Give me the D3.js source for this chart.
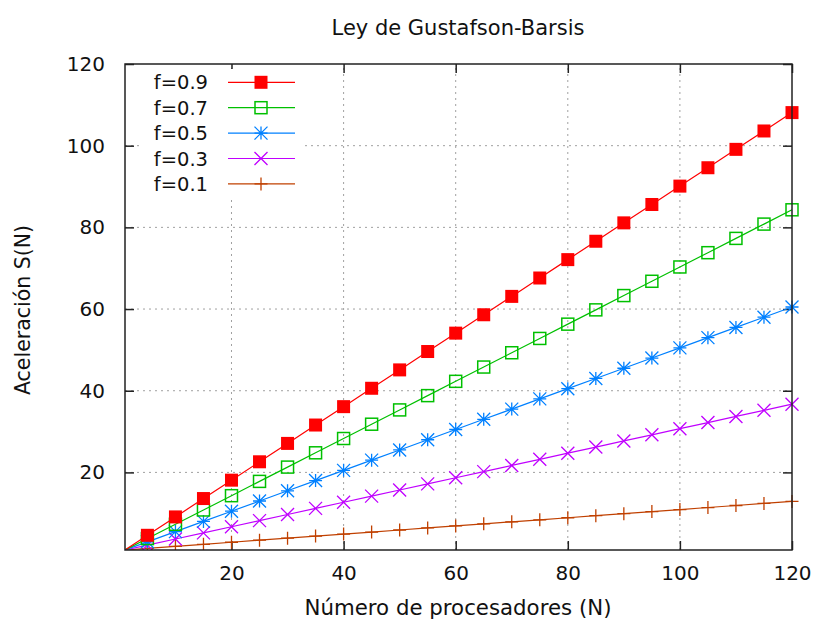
<!DOCTYPE html>
<html>
<head>
<meta charset="utf-8">
<script src="https://cdn.jsdelivr.net/npm/d3@7"></script>
<style>
  body { margin: 0; background: #fff; }
  svg { font-family: "DejaVu Sans", sans-serif; }
</style>
</head>
<body>
<svg width="814" height="623"></svg>
<script>
// processors and speed-up
const procs = [1, 5, 10, 15, 20, 25, 30, 35, 40, 45, 50, 55, 60, 65, 70, 75, 80, 85, 90, 95, 100, 105, 110, 115, 120];
const f09 = [1, 4.6, 9.1, 13.6, 18.1, 22.6, 27.1, 31.6, 36.1, 40.6, 45.1, 49.6, 54.1, 58.6, 63.1, 67.6, 72.1, 76.6, 81.1, 85.6, 90.1, 94.6, 99.1, 103.6, 108.1];
const f07 = [1, 3.8, 7.3, 10.8, 14.3, 17.8, 21.3, 24.8, 28.3, 31.8, 35.3, 38.8, 42.3, 45.8, 49.3, 52.8, 56.3, 59.8, 63.3, 66.8, 70.3, 73.8, 77.3, 80.8, 84.3];
const f05 = [1, 3, 5.5, 8, 10.5, 13, 15.5, 18, 20.5, 23, 25.5, 28, 30.5, 33, 35.5, 38, 40.5, 43, 45.5, 48, 50.5, 53, 55.5, 58, 60.5];
const f03 = [1, 2.2, 3.7, 5.2, 6.7, 8.2, 9.7, 11.2, 12.7, 14.2, 15.7, 17.2, 18.7, 20.2, 21.7, 23.2, 24.7, 26.2, 27.7, 29.2, 30.7, 32.2, 33.7, 35.2, 36.7];
const f01 = [1, 1.4, 1.9, 2.4, 2.9, 3.4, 3.9, 4.4, 4.9, 5.4, 5.9, 6.4, 6.9, 7.4, 7.9, 8.4, 8.9, 9.4, 9.9, 10.4, 10.9, 11.4, 11.9, 12.4, 12.9];
const seriesNames = ["f=0.9", "f=0.7", "f=0.5", "f=0.3", "f=0.1"];
const seriesValues = [f09, f07, f05, f03, f01];
const seriesColors = ["#ff0000", "#00c000", "#0080ff", "#c000ff", "#c04000"];
const seriesSymbols = ["fillsquare", "square", "star", "cross", "plus"];
const xTicks = [20, 40, 60, 80, 100, 120];
const yTicks = [20, 40, 60, 80, 100, 120];

const svg = d3.select('svg');
const plotLeft = 125, plotRight = 792, plotTop = 64, plotBottom = 550;

const x = d3.scaleLinear().domain([1, 120]).range([plotLeft, plotRight]);
const y = d3.scaleLinear().domain([1, 120]).range([plotBottom, plotTop]);

// grid
const grid = svg.append('g')
  .attr('stroke', '#a0a0a0')
  .attr('stroke-width', 1)
  .attr('stroke-dasharray', '2,4');
grid.selectAll('.gx').data(xTicks.slice(0, -1)).enter().append('line')
  .attr('x1', (d) => x(d)).attr('x2', (d) => x(d))
  .attr('y1', plotBottom).attr('y2', plotTop);
grid.selectAll('.gy').data(yTicks.slice(0, -1)).enter().append('line')
  .attr('x1', plotLeft).attr('x2', plotRight)
  .attr('y1', (d) => y(d)).attr('y2', (d) => y(d));

// axes (ticks point inward, mirrored)
const tickLen = 9;
svg.append('g')
  .attr('transform', `translate(0,${plotBottom})`)
  .call(d3.axisBottom(x).tickValues(xTicks).tickSize(-tickLen).tickPadding(16));
svg.append('g')
  .attr('transform', `translate(${plotLeft},0)`)
  .call(d3.axisLeft(y).tickValues(yTicks).tickSize(-tickLen).tickPadding(20));
svg.append('g')
  .attr('transform', `translate(0,${plotTop})`)
  .call(d3.axisTop(x).tickValues(xTicks).tickSize(-tickLen).tickFormat(''));
svg.append('g')
  .attr('transform', `translate(${plotRight},0)`)
  .call(d3.axisRight(y).tickValues(yTicks).tickSize(-tickLen).tickFormat(''));
svg.selectAll('.domain').remove();
svg.selectAll('.tick line').attr('stroke', '#222').attr('stroke-width', 1.5);
svg.selectAll('.tick text')
  .attr('font-family', '"DejaVu Sans", sans-serif')
  .attr('font-size', 20)
  .attr('fill', '#111');

// clip for the data
svg.append('defs').append('clipPath').attr('id', 'plot-clip')
  .append('rect').attr('x', plotLeft).attr('y', plotTop - 10)
  .attr('width', plotRight - plotLeft + 10).attr('height', plotBottom - plotTop + 10);

function symbolPath(g, kind, color) {
  const s = 6.5;
  if (kind === 'fillsquare') {
    g.append('rect').attr('x', -s).attr('y', -s).attr('width', 2 * s).attr('height', 2 * s)
      .attr('fill', color);
  } else if (kind === 'square') {
    g.append('rect').attr('x', -s + 0.5).attr('y', -s + 0.5).attr('width', 2 * s - 1).attr('height', 2 * s - 1)
      .attr('fill', 'none').attr('stroke', color).attr('stroke-width', 1.5);
  } else if (kind === 'star') {
    g.append('path').attr('d', `M${-s},0H${s}M0,${-s}V${s}M${-s},${-s}L${s},${s}M${-s},${s}L${s},${-s}`)
      .attr('stroke', color).attr('stroke-width', 1.3);
  } else if (kind === 'cross') {
    g.append('path').attr('d', `M${-s},${-s}L${s},${s}M${-s},${s}L${s},${-s}`)
      .attr('stroke', color).attr('stroke-width', 1.3);
  } else {
    g.append('path').attr('d', `M${-s},0H${s}M0,${-s}V${s}`)
      .attr('stroke', color).attr('stroke-width', 1.3);
  }
}

const line = d3.line().x((d, i) => x(procs[i])).y((d) => y(d));
const plot = svg.append('g').attr('clip-path', 'url(#plot-clip)');

// draw series back to front so f=0.9 sits on top
for (let k = seriesValues.length - 1; k >= 0; k--) {
  const vals = seriesValues[k];
  const g = plot.append('g');
  g.append('path').datum(vals)
    .attr('d', line)
    .attr('fill', 'none')
    .attr('stroke', seriesColors[k])
    .attr('stroke-width', 1.2);
  g.selectAll('g.pt').data(vals.slice(1)).enter().append('g')
    .attr('transform', (d, i) => `translate(${x(procs[i + 1])},${y(d)})`)
    .each(function () { symbolPath(d3.select(this), seriesSymbols[k], seriesColors[k]); });
}

// legend with opaque background
const legend = svg.append('g');
legend.append('rect').attr('x', 140).attr('y', 69).attr('width', 165).attr('height', 127).attr('fill', '#fff');
seriesNames.forEach((name, k) => {
  const ly = 82.3 + k * 25.4;
  legend.append('text').attr('x', 208).attr('y', ly).attr('dy', '0.36em')
    .attr('text-anchor', 'end').attr('font-size', 19.5).attr('fill', '#111').text(name);
  legend.append('line').attr('x1', 228).attr('x2', 295).attr('y1', ly).attr('y2', ly)
    .attr('stroke', seriesColors[k]).attr('stroke-width', 1.2);
  const m = legend.append('g').attr('transform', `translate(261,${ly})`);
  symbolPath(m, seriesSymbols[k], seriesColors[k]);
});

// border
svg.append('rect').attr('x', plotLeft).attr('y', plotTop)
  .attr('width', plotRight - plotLeft).attr('height', plotBottom - plotTop)
  .attr('fill', 'none').attr('stroke', '#222').attr('stroke-width', 1.5);

// titles
svg.append('text').attr('x', 458).attr('y', 35).attr('text-anchor', 'middle')
  .attr('font-size', 21).attr('fill', '#111').text('Ley de Gustafson-Barsis');
svg.append('text').attr('x', 458).attr('y', 615).attr('text-anchor', 'middle')
  .attr('font-size', 21.3).attr('fill', '#111').text('Número de procesadores (N)');
svg.append('text').attr('transform', 'translate(30,310) rotate(-90)').attr('text-anchor', 'middle')
  .attr('font-size', 20.5).attr('fill', '#111').text('Aceleración S(N)');
</script>
</body>
</html>
